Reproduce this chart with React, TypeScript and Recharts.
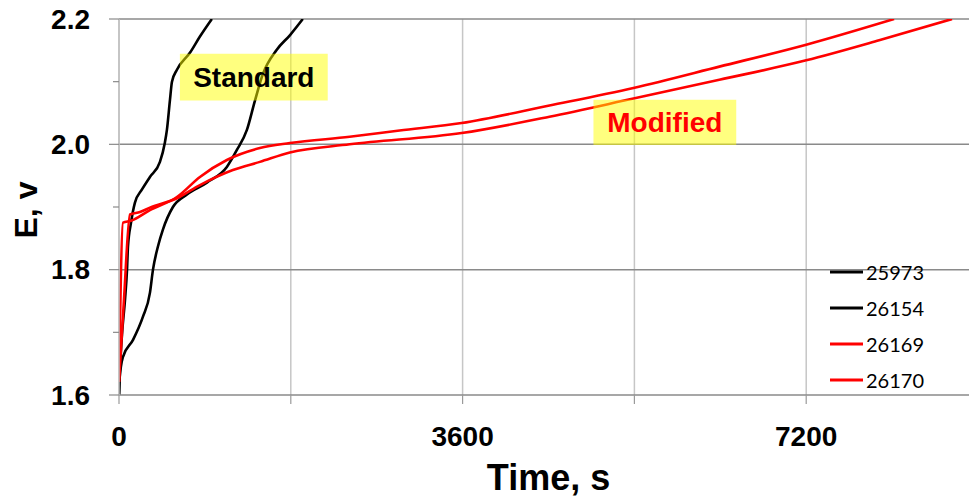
import React from "react";
import {
  LineChart,
  Line,
  XAxis,
  YAxis,
  CartesianGrid,
  ReferenceLine,
  ReferenceArea,
  Legend,
  Label,
} from "recharts";

const FONT = '"Liberation Sans", Arial, Helvetica, sans-serif';

// ---- data ----
const seriesNames = ["25973", "26154", "26169", "26170"];
const seriesColors = ["#000000", "#000000", "#ff0000", "#ff0000"];

const t25973 = [0, 10, 31, 63, 84, 94, 126, 167, 241, 324, 429, 481, 502, 534, 555, 607, 743, 848, 973];
const e25973 = [1.6, 1.64, 1.696, 1.752, 1.8, 1.837, 1.875, 1.907, 1.928, 1.948, 1.972, 2.003, 2.023, 2.071, 2.1, 2.119, 2.146, 2.172, 2.2];

const t26154 = [0, 5, 42, 147, 251, 324, 356, 408, 460, 565, 712, 921, 1130, 1235, 1340, 1423, 1507, 1653, 1790, 1926];
const e26154 = [1.6, 1.624, 1.661, 1.688, 1.725, 1.763, 1.8, 1.837, 1.864, 1.9, 1.92, 1.939, 1.964, 1.991, 2.023, 2.069, 2.112, 2.151, 2.174, 2.2];

const t26169 = [0, 42, 126, 324, 607, 848, 1130, 1476, 1790, 2417, 2940, 3590, 4510, 5390, 6290, 7200, 8121];
const e26169 = [1.621, 1.875, 1.878, 1.895, 1.916, 1.948, 1.975, 1.994, 2.002, 2.012, 2.022, 2.034, 2.062, 2.09, 2.124, 2.159, 2.2];

const t26170 = [0, 52, 115, 220, 324, 607, 848, 1193, 1476, 1790, 2417, 3590, 4510, 5390, 6290, 7200, 7964, 8728];
const e26170 = [1.621, 1.752, 1.888, 1.892, 1.899, 1.914, 1.935, 1.959, 1.972, 1.987, 2.0, 2.018, 2.044, 2.073, 2.103, 2.134, 2.166, 2.2];

const xTicks = [0, 1800, 3600, 5400, 7200, 9000];
const xLabelled = [0, 3600, 7200];
const yTicks = [1.6, 1.7, 1.8, 1.9, 2.0, 2.1, 2.2];
const yMajor = [1.6, 1.8, 2.0, 2.2];

const annotations = [
  { text: "Standard", color: "#000000", x1: 638, x2: 2187, y1: 2.07, y2: 2.1446 },
  { text: "Modified", color: "#ff0000", x1: 4971, x2: 6467, y1: 1.999, y2: 2.071 },
];

const buildSeries = (ts: number[], es: number[]) => ts.map((t, i) => ({ t, e: es[i] }));
const seriesData = [
  buildSeries(t25973, e25973),
  buildSeries(t26154, e26154),
  buildSeries(t26169, e26169),
  buildSeries(t26170, e26170),
];

const YTick = (props: any) => {
  const { x, y, payload } = props;
  const major = yMajor.some((m) => Math.abs(m - payload.value) < 1e-6);
  return (
    <g>
      <line x1={x - (major ? 10 : 6)} x2={x} y1={y} y2={y} stroke="#8a8a8a" strokeWidth={1.2} />
      {major && (
        <text
          x={x - 29}
          y={y}
          textAnchor="end"
          dominantBaseline="central"
          fontFamily={FONT}
          fontWeight="bold"
          fontSize={28}
          fill="#000"
        >
          {Number(payload.value).toFixed(1)}
        </text>
      )}
    </g>
  );
};

const XLabel = (props: any) => {
  const vb = props.viewBox;
  return (
    <text
      x={vb.x + vb.width / 2}
      y={vb.y + 95}
      textAnchor="middle"
      fontFamily={FONT}
      fontWeight="bold"
      fontSize={36}
      fill="#000"
    >
      Time, s
    </text>
  );
};

const YLabel = (props: any) => {
  const vb = props.viewBox;
  const cx = vb.x + 37;
  const cy = vb.y + vb.height / 2 + 3;
  return (
    <text
      x={cx}
      y={cy}
      transform={`rotate(-90, ${cx}, ${cy})`}
      textAnchor="middle"
      fontFamily={FONT}
      fontWeight="bold"
      fontSize={32}
      fill="#000"
    >
      E, v
    </text>
  );
};

const LegendContent = (props: any) => {
  const payload = props.payload || [];
  return (
    <div>
      {payload.map((p: any) => (
        <div key={p.value} style={{ display: "flex", alignItems: "center", height: 36 }}>
          <svg width={33} height={4} style={{ display: "block" }}>
            <line x1={0} x2={33} y1={2} y2={2} stroke={p.color} strokeWidth={3} />
          </svg>
          <span style={{ fontFamily: "Lato, 'Open Sans', sans-serif", fontSize: 20, marginLeft: 3, color: "#000", lineHeight: "20px" }}>
            {p.value}
          </span>
        </div>
      ))}
    </div>
  );
};

export default function App() {
  return (
    <div style={{ position: "absolute", left: 0, top: 0, width: 969, height: 498, overflow: "hidden", background: "#fff" }}>
      <LineChart width={978} height={498} margin={{ top: 19, right: 0, bottom: 0, left: 0 }}>
        <CartesianGrid horizontal={false} stroke="#c6c6c6" strokeWidth={1.5} />
        {yMajor.slice(1).map((v) => (
          <ReferenceLine key={v} y={v} stroke="#8a8a8a" strokeWidth={1.5} />
        ))}
        <XAxis
          type="number"
          dataKey="t"
          domain={[0, 9000]}
          ticks={xTicks}
          allowDataOverflow
          tickFormatter={(v: number) => (xLabelled.includes(v) ? String(v) : "")}
          height={103}
          axisLine={{ stroke: "#8a8a8a", strokeWidth: 1.5 }}
          tickLine={{ stroke: "#9a9a9a", strokeWidth: 1.2 }}
          tickSize={9}
          tickMargin={22}
          tick={{ fill: "#000", fontSize: 28, fontWeight: "bold", fontFamily: FONT }}
        >
          <Label content={XLabel} />
        </XAxis>
        <YAxis
          type="number"
          domain={[1.6, 2.2]}
          ticks={yTicks}
          allowDataOverflow
          width={119}
          axisLine={{ stroke: "#c0c0c0", strokeWidth: 1.5 }}
          tickLine={false}
          tickSize={0}
          tickMargin={0}
          tick={<YTick />}
        >
          <Label content={YLabel} />
        </YAxis>
        {seriesNames.map((name, i) => (
          <Line
            key={name}
            name={name}
            data={seriesData[i]}
            dataKey="e"
            type="monotone"
            stroke={seriesColors[i]}
            strokeWidth={2.6}
            dot={false}
            activeDot={false}
            isAnimationActive={false}
          />
        ))}
        {annotations.map((a) => (
          <ReferenceArea
            key={a.text}
            x1={a.x1}
            x2={a.x2}
            y1={a.y1}
            y2={a.y2}
            fill="#ffff00"
            fillOpacity={0.5}
            stroke="none"
            zIndex={1000}
            label={{ value: a.text, position: "center", fill: a.color, fontSize: 28, fontWeight: "bold", fontFamily: FONT }}
          />
        ))}
        <Legend
          layout="vertical"
          align="center"
          verticalAlign="middle"
          content={<LegendContent />}
          wrapperStyle={{ position: "absolute", left: 830, top: 254, width: 130, height: 150 }}
        />
      </LineChart>
    </div>
  );
}
